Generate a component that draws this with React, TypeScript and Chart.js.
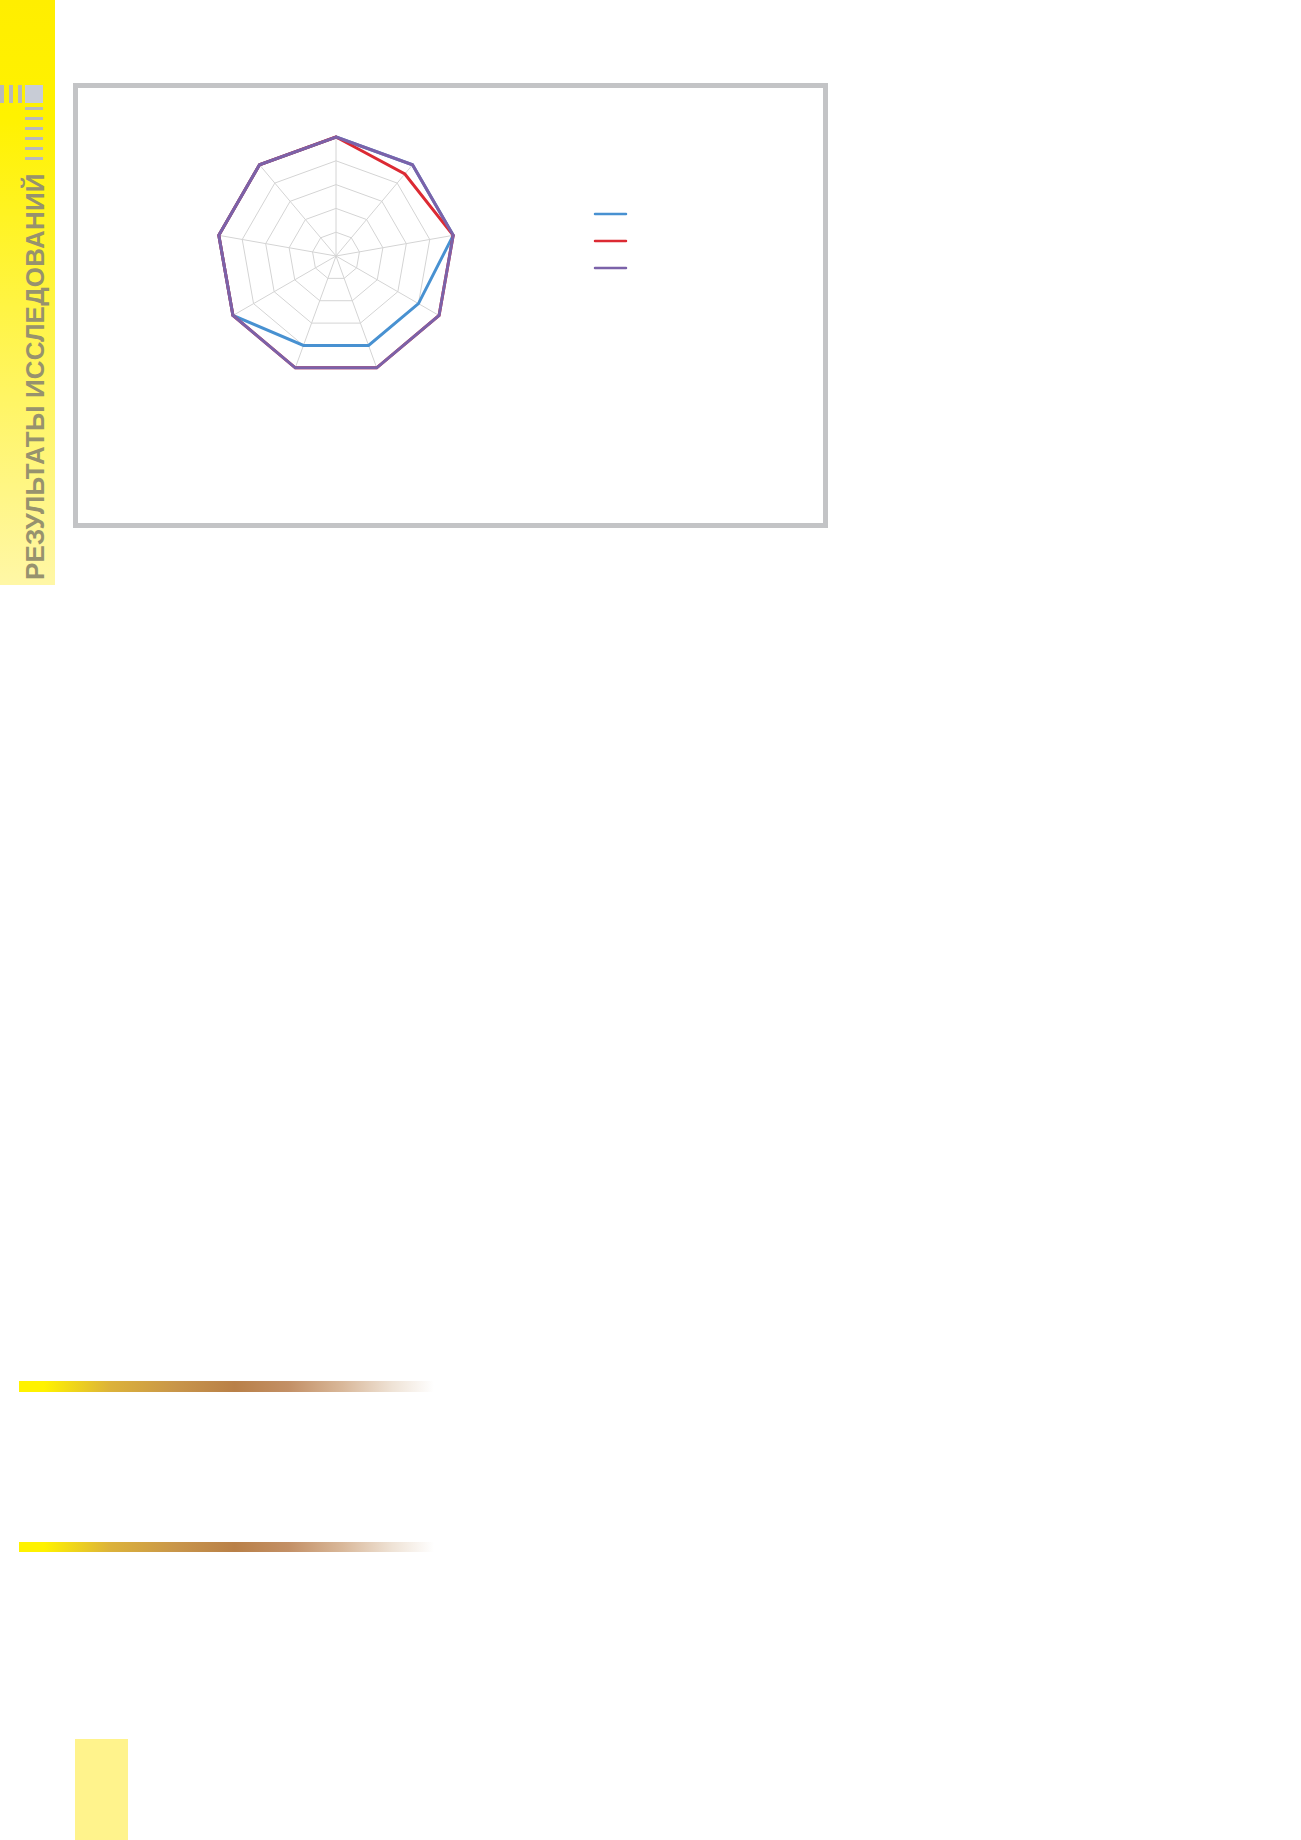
import { useEffect, useRef } from "react";
import Chart from "chart.js/auto";

// nine axes, scale 0..5 with a ring per point; axis names are not printed
const AXES = ["1", "2", "3", "4", "5", "6", "7", "8", "9"];
const SERIES_BLUE = [5, 5, 5, 4, 4, 4, 5, 5, 5];
const SERIES_RED = [5, 4.5, 5, 5, 5, 5, 5, 5, 5];
const SERIES_PURPLE = [5, 5, 5, 5, 5, 5, 5, 5, 5];
const SCALE_MAX = 5;
const SCALE_STEP = 1;

const SIDE_TITLE = "РЕЗУЛЬТАТЫ ИССЛЕДОВАНИЙ";

// Short line swatches to the right of the web, one per dataset, no captions.
const lineLegend = {
  id: "lineLegend",
  afterDatasetsDraw(chart: Chart) {
    const r = chart.scales.r as any;
    const ctx = chart.ctx;
    ctx.save();
    ctx.lineWidth = 2.5;
    ctx.lineCap = "round";
    chart.data.datasets.forEach((ds, i) => {
      const y = r.yCenter - 42 + i * 27;
      ctx.strokeStyle = ds.borderColor as string;
      ctx.beginPath();
      ctx.moveTo(r.xCenter + 259, y);
      ctx.lineTo(r.xCenter + 290, y);
      ctx.stroke();
    });
    ctx.restore();
  },
};

function RadarChart() {
  const canvasRef = useRef<HTMLCanvasElement>(null);

  useEffect(() => {
    const ctx = canvasRef.current?.getContext("2d");
    if (!ctx) return;
    const chart = new Chart(ctx, {
      type: "radar",
      data: {
        labels: AXES,
        datasets: [
          { label: "", data: SERIES_BLUE, borderColor: "#4891d1", order: 2 },
          { label: "", data: SERIES_RED, borderColor: "#dc2a33", order: 1 },
          { label: "", data: SERIES_PURPLE, borderColor: "#7b62a9", order: 0 },
        ].map((d) => ({ ...d, fill: false, borderWidth: 3, pointRadius: 0, tension: 0, borderJoinStyle: "miter" as const })),
      },
      options: {
        responsive: true,
        maintainAspectRatio: false,
        animation: false,
        layout: { padding: { top: 20, bottom: 20, left: 20, right: 242 } },
        plugins: { legend: { display: false }, tooltip: { enabled: false } },
        scales: {
          r: {
            min: 0,
            max: SCALE_MAX,
            ticks: { display: false, stepSize: SCALE_STEP },
            pointLabels: { display: false },
            grid: { color: "#d4d4d4", lineWidth: 1 },
            angleLines: { color: "#d4d4d4", lineWidth: 1 },
          },
        },
      },
      plugins: [lineLegend],
    });
    return () => chart.destroy();
  }, []);

  return (
    <div style={{ position: "absolute", left: 197, top: 117, width: 500, height: 278 }}>
      <canvas ref={canvasRef} />
    </div>
  );
}

const goldBar =
  "linear-gradient(to right, #fff200 0%, #fff200 6%, #dcb23a 22%, #c8954a 38%, #b98048 52%, #c39066 65%, #d9b89a 78%, #efe3d6 90%, #ffffff 100%)";

export default function App() {
  const abs = (s: React.CSSProperties): React.CSSProperties => ({ position: "absolute", ...s });
  return (
    <div style={abs({ left: 0, top: 0, width: 1301, height: 1840, overflow: "hidden", background: "#fff" })}>
      {/* yellow side strip with the section title */}
      <div style={abs({ left: 0, top: 0, width: 55, height: 585, background: "linear-gradient(#ffee00 0%, #fff200 20%, #fff7a6 100%)" })} />
      {[0, 9, 18].map((x) => (
        <div key={x} style={abs({ left: x, top: 85, width: 4, height: 18, background: "#b9b9b9" })} />
      ))}
      <div style={abs({ left: 25, top: 85, width: 18, height: 18, background: "#c8ccd6" })} />
      {[107, 117, 127, 137, 147, 157].map((y) => (
        <div key={y} style={abs({ left: 25, top: y, width: 18, height: 3, background: "#b9b9b9" })} />
      ))}
      <div
        style={abs({
          left: 21.6,
          top: 580,
          width: 430,
          height: 26,
          transformOrigin: "0 0",
          transform: "rotate(-90deg)",
          font: "bold 26px 'Liberation Sans', Arial, sans-serif",
          lineHeight: "26px",
          letterSpacing: 0.2,
          color: "#97926e",
          whiteSpace: "nowrap",
        })}
      >
        {SIDE_TITLE}
      </div>

      {/* framed chart */}
      <div style={abs({ left: 73, top: 83, width: 755, height: 445, border: "5px solid #c3c4c6", boxSizing: "border-box" })} />
      <RadarChart />

      {/* decorative rules and corner block */}
      <div style={abs({ left: 19, top: 1381, width: 415, height: 11, background: goldBar })} />
      <div style={abs({ left: 19, top: 1542, width: 415, height: 10, background: goldBar })} />
      <div style={abs({ left: 75, top: 1739, width: 53, height: 101, background: "#fff38c" })} />
    </div>
  );
}
